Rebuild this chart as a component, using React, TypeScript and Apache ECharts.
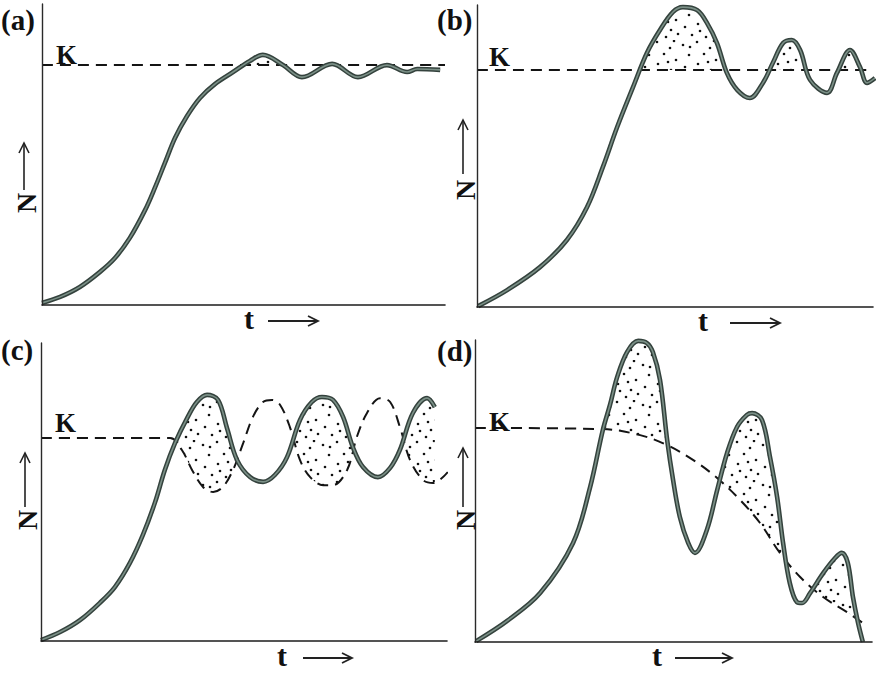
import React, { useEffect, useRef } from "react";
import * as echarts from "echarts";

// Panel (a): damped oscillation about K
const aK = 79.7;
const aSolid: [number, number][] = [
  [0, 0.7], [4.5, 2.7], [9.4, 6], [14.4, 11], [18.1, 15.6], [21.8, 22.3], [25.6, 31.6],
  [28, 38.9], [30.5, 47.2], [33, 55.5], [36, 62.8], [39.2, 68.8], [42.9, 73.4], [47.4, 77.4],
  [51.6, 81.1], [54.8, 83.1], [59.8, 79.7], [64.5, 75.7], [72, 80.1], [78.4, 75.7],
  [85.6, 79.7], [90.6, 77.4], [93.1, 78.4], [98.8, 78.1],
];

// Panel (b): larger damped oscillation about K
const bK = 78.5;
const bSolid: [number, number][] = [
  [0.3, 0.3], [7.6, 5.6], [15.9, 13.2], [22.7, 22.2], [27.8, 33.1], [31.8, 46.4], [35.4, 59.6],
  [39.4, 72.8], [42.9, 84.1], [46.2, 91.7], [49.5, 97.7], [52, 99.3], [55.6, 98.3],
  [58.1, 94], [60.6, 87.4], [63.1, 77.5], [65.7, 71.9], [68.9, 69.2], [72.2, 74.2],
  [74.7, 80.8], [77.3, 87.4], [79.5, 88.4], [81.6, 85.1], [84.1, 75.2], [88.4, 70.9],
  [90.9, 77.5], [94.2, 85.1], [96.7, 79.5], [98.5, 74.2], [100.5, 75.8],
];

// Panel (c): sustained oscillation, K oscillating out of phase
const cK = 68.1;
const cSolid: [number, number][] = [
  [0, 0.3], [4.7, 3], [9.6, 7], [14.5, 12.8], [18.2, 18.1], [21.9, 26.2], [25.1, 35.6],
  [28.1, 46.6], [30.5, 57.4], [33, 66.4], [36, 74.8], [38.4, 80.2], [40.9, 82.6],
  [43.6, 80.9], [45.8, 71.5], [48.3, 60.7], [51.5, 55], [54.7, 53.4], [57.6, 55.7],
  [60.6, 61.7], [63.8, 74.2], [66.7, 80.2], [69.2, 81.9], [71.9, 80.9], [74.4, 75.2],
  [76.8, 65.1], [79.3, 58.4], [83, 55], [86, 58.1], [88.4, 64.1], [91.6, 76.5],
  [95.1, 81.5], [97, 78.5],
];
const cRef: [number, number][] = [
  [0, cK], [31.8, cK], [34.7, 64.1], [37.2, 57.4], [39.9, 51.7], [42.4, 50], [44.8, 51.7],
  [47.3, 57.4], [49.8, 66.4], [52.2, 75.2], [54.7, 80.2], [56.9, 80.9], [58.9, 79.2],
  [61.3, 71.8], [63.8, 60.7], [66.3, 55], [69.5, 52.3], [71.9, 52.3], [75.4, 57.4],
  [77.8, 68.5], [80.3, 76.5], [83.5, 81.5], [86, 80.2], [88.4, 71.8], [90.9, 60.7],
  [94.1, 54], [96.6, 53], [100.2, 56.7],
];

// Panel (d): overshoot with declining K
const dK = 70.9;
const dSolid: [number, number][] = [
  [0.3, 0.3], [8.1, 7], [16.4, 16.2], [24.7, 32.8], [29, 51.3], [32.2, 70.2], [34, 78.5],
  [35.8, 87.7], [38.3, 96], [41.1, 99.7], [43.3, 99], [44.8, 96], [46.6, 86.8],
  [48.4, 66.9], [49.9, 53.6], [51.6, 41.4], [53.7, 32.8], [55.4, 29.5], [58.4, 37.1],
  [61, 50.3], [63.5, 62.6], [66, 71.2], [68.5, 75.2], [69.8, 75.8], [72.3, 73.5],
  [74.3, 61.3], [76.1, 48], [77.6, 32.8], [79.3, 19.5], [81.1, 13.2], [82.4, 12.9],
  [84.4, 16.2], [87.7, 22.8], [90.7, 27.8], [92.4, 29.5], [93.9, 26.2], [95.2, 14.9],
  [96.5, 6.3], [97.7, 0],
];
const dRef: [number, number][] = [
  [0, dK], [32.2, 70.5], [41.6, 68.5], [48.4, 65.2], [54.9, 60.3], [61, 54.3], [66.8, 47],
  [71.8, 39.4], [76.8, 29.5], [81.9, 21.5], [87.7, 14.9], [93.7, 9.9], [97.7, 6.3],
];

const panelLabels = ["(a)", "(b)", "(c)", "(d)"];

function makeDots(): string {
  const c = document.createElement("canvas");
  c.width = 40;
  c.height = 40;
  const ctx = c.getContext("2d")!;
  const pts = [
    [3, 5], [17, 2], [30, 8], [9, 15], [24, 14], [36, 20], [5, 27], [18, 24],
    [31, 30], [12, 35], [26, 37], [38, 34], [20, 31], [34, 1], [10, 7], [28, 22],
  ];
  ctx.fillStyle = "#111";
  for (const [x, y] of pts) {
    ctx.beginPath();
    ctx.arc(x, y, 1.3, 0, Math.PI * 2);
    ctx.fill();
  }
  return c.toDataURL();
}

export default function App() {
  const ref = useRef<HTMLDivElement>(null);
  useEffect(() => {
    const chart = echarts.init(ref.current!, null, { renderer: "svg" });
    const dots = makeDots();
    const pattern = { image: dots, repeat: "repeat" } as any;

    const grids = [
      { left: 42, top: 4, width: 403, height: 301 },
      { left: 477, top: 5, width: 396, height: 302 },
      { left: 41, top: 343, width: 406, height: 298 },
      { left: 475, top: 340, width: 397, height: 302 },
    ];
    const panels = [
      { solid: aSolid, ref: [[0, aK], [100, aK]] },
      { solid: bSolid, ref: [[0, bK], [100, bK]] },
      { solid: cSolid, ref: cRef },
      { solid: dSolid, ref: dRef },
    ];
    const axisLine = { show: true, lineStyle: { color: "#1c1c1c", width: 1.6 } };
    const xAxis = grids.map((_, i) => ({
      type: "value", gridIndex: i, min: 0, max: 100, z: 10,
      axisLine, axisTick: { show: false }, axisLabel: { show: false }, splitLine: { show: false },
    }));
    const yAxis = grids.map((_, i) => ({
      type: "value", gridIndex: i, min: 0, max: 100, z: 10,
      axisLine: { show: true, lineStyle: { color: "#2a2a2a", width: 1.4 } },
      axisTick: { show: false }, axisLabel: { show: false }, splitLine: { show: false },
    }));
    const sm = 0.35;
    const series: any[] = [];
    panels.forEach((p, i) => {
      const common = { type: "line", xAxisIndex: i, yAxisIndex: i, symbol: "none", clip: false, silent: true };
      series.push({ ...common, data: p.solid, smooth: sm, z: 1, lineStyle: { width: 0, opacity: 0 }, areaStyle: { color: pattern, opacity: 1 } });
      series.push({ ...common, data: p.ref, smooth: sm, z: 2, lineStyle: { width: 0, opacity: 0 }, areaStyle: { color: "#ffffff", opacity: 1 } });
      series.push({ ...common, data: p.ref, smooth: sm, z: 3, lineStyle: { color: "#141414", width: 2, type: [11, 7] } });
      series.push({ ...common, data: p.solid, smooth: sm, z: 4, lineStyle: { color: "#34423d", width: 4.6 } });
      series.push({ ...common, data: p.solid, smooth: sm, z: 5, lineStyle: { color: "#7b9087", width: 1.6 } });
    });

    const serif = "'Liberation Serif', 'Times New Roman', serif";
    const g: any[] = [];
    const lab = [[1, 20], [437, 20], [1, 350], [437, 351]];
    lab.forEach(([x, y], i) => g.push({ type: "text", x, y, z: 20, style: { text: panelLabels[i], fontFamily: serif, fontSize: 29, fontWeight: "bold", fill: "#111", verticalAlign: "middle", textVerticalAlign: "middle" } }));
    const ks = [[56, 55], [489, 57], [55, 423], [489, 422]];
    ks.forEach(([x, y]) => g.push({ type: "text", x, y, z: 20, style: { text: "K", fontFamily: serif, fontSize: 27, fontWeight: "bold", fill: "#111", verticalAlign: "middle", textVerticalAlign: "middle" } }));
    const ts = [[249, 318, 268, 318], [703, 320, 730, 780], [282, 655, 303, 352], [657, 655, 675, 732]];
    ts.forEach(([x, y, a1, a2]) => {
      g.push({ type: "text", x, y, z: 20, style: { text: "t", fontFamily: serif, fontSize: 30, fontWeight: "bold", fill: "#111", align: "center", verticalAlign: "middle", textAlign: "center", textVerticalAlign: "middle" } });
      g.push({ type: "line", z: 20, shape: { x1: a1, y1: y + 3, x2: a2, y2: y + 3 }, style: { stroke: "#222", lineWidth: 1.8 } });
      g.push({ type: "polyline", z: 20, shape: { points: [[a2 - 10, y - 2], [a2, y + 3], [a2 - 10, y + 8]] }, style: { stroke: "#222", lineWidth: 1.8, fill: null } });
    });
    const ns = [[26, 203, 143, 190], [465, 190, 120, 174], [27, 520, 453, 507], [465, 520, 448, 507]];
    ns.forEach(([x, y, tip, bot]) => {
      g.push({ type: "text", x, y, z: 20, rotation: Math.PI / 2, style: { text: "N", fontFamily: serif, fontSize: 28, fontWeight: "bold", fill: "#111", align: "center", verticalAlign: "middle", textAlign: "center", textVerticalAlign: "middle" } });
      const ax = x - 2;
      g.push({ type: "line", z: 20, shape: { x1: ax, y1: bot, x2: ax, y2: tip }, style: { stroke: "#222", lineWidth: 1.6 } });
      g.push({ type: "polyline", z: 20, shape: { points: [[ax - 5, tip + 10], [ax, tip], [ax + 5, tip + 10]] }, style: { stroke: "#222", lineWidth: 1.6, fill: null } });
    });

    chart.setOption({
      animation: false,
      backgroundColor: "#ffffff",
      grid: grids.map((gr) => ({ ...gr })),
      xAxis,
      yAxis,
      series,
      graphic: g,
    });
    return () => chart.dispose();
  }, []);
  return <div ref={ref} style={{ position: "fixed", left: 0, top: 0, width: 881, height: 673 }} />;
}
